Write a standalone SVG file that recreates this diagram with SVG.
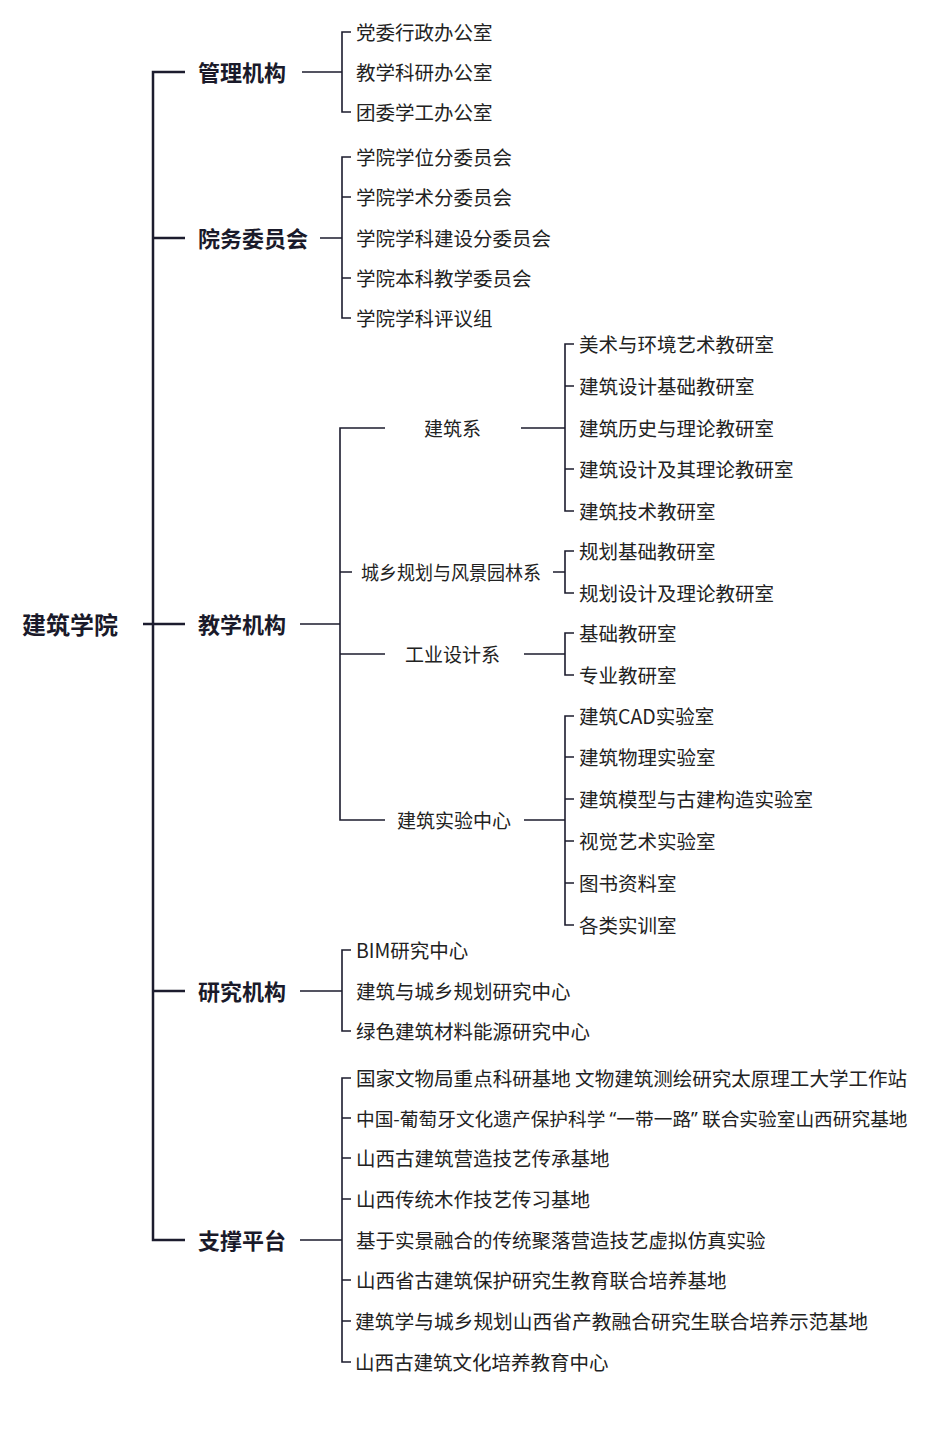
<svg xmlns="http://www.w3.org/2000/svg" width="930" height="1438" viewBox="0 0 930 1438">
<style>
text{font-family:"Noto Sans CJK SC","Noto Sans",sans-serif;fill:#222;dominant-baseline:central}
.root{font-size:24px;font-weight:bold;fill:#1a1a2a}
.l1{font-size:22px;font-weight:bold;fill:#1a1a2a}
.l2{font-size:19px}
.lf{font-size:19.5px}
.q{font-family:"Noto Sans","DejaVu Sans",sans-serif}
.c path{stroke:#1c1c2e;fill:none}
.main{stroke-width:2.5}
.thin{stroke-width:1.6}
</style>
<rect width="930" height="1438" fill="#fff"/>
<g class="c" id="connectors">
<path class="main" d="M185 72H153V1240H185M153 238H185M143 624H185M153 991H185"/>
<path class="thin" d="M302 72H342M351 32H342V112H351"/>
<path class="thin" d="M320 238H342M351 157H342V318H351M342 197H351M342 278H351"/>
<path class="thin" d="M300 624H340M385 428H340V820H385M340 572H352M340 654H385"/>
<path class="thin" d="M521 428H565M574 344H565V511H574M565 386H574M565 469H574"/>
<path class="thin" d="M553 572H565M574 551H565V593H574"/>
<path class="thin" d="M524 654H565M574 633H565V675H574"/>
<path class="thin" d="M524 820H565M574 716H565V925H574M565 757H574M565 799H574M565 841H574M565 883H574"/>
<path class="thin" d="M300 991H342M351 950H342V1031H351"/>
<path class="thin" d="M300 1240H342M351 1078H342V1362H351M342 1118H351M342 1158H351M342 1199H351M342 1280H351M342 1321H351"/>
</g>
<g id="root"><text class="root" x="22" y="623">建筑学院</text></g>
<g id="n-guanli"><text class="l1" x="198" y="71">管理机构</text></g>
<g id="n-yuanwu"><text class="l1" x="198" y="237">院务委员会</text></g>
<g id="n-jiaoxue"><text class="l1" x="198" y="623">教学机构</text></g>
<g id="n-yanjiu"><text class="l1" x="198" y="990">研究机构</text></g>
<g id="n-zhicheng"><text class="l1" x="198" y="1239">支撑平台</text></g>
<g id="guanli-children">
<text class="lf" x="356" y="31">党委行政办公室</text>
<text class="lf" x="356" y="71">教学科研办公室</text>
<text class="lf" x="356" y="111">团委学工办公室</text>
</g>
<g id="yuanwu-children">
<text class="lf" x="356" y="156">学院学位分委员会</text>
<text class="lf" x="356" y="196">学院学术分委员会</text>
<text class="lf" x="356" y="237">学院学科建设分委员会</text>
<text class="lf" x="356" y="277">学院本科教学委员会</text>
<text class="lf" x="356" y="317">学院学科评议组</text>
</g>
<g id="n-jianzhuxi"><text class="l2" x="424" y="427">建筑系</text></g>
<g id="n-chengxiang"><text class="l2" x="361" y="571" textLength="180" lengthAdjust="spacingAndGlyphs">城乡规划与风景园林系</text></g>
<g id="n-gongye"><text class="l2" x="405" y="653">工业设计系</text></g>
<g id="n-shiyan"><text class="l2" x="397" y="819">建筑实验中心</text></g>
<g id="jianzhuxi-children">
<text class="lf" x="579" y="343">美术与环境艺术教研室</text>
<text class="lf" x="579" y="385">建筑设计基础教研室</text>
<text class="lf" x="579" y="427">建筑历史与理论教研室</text>
<text class="lf" x="579" y="468">建筑设计及其理论教研室</text>
<text class="lf" x="579" y="510">建筑技术教研室</text>
</g>
<g id="chengxiang-children">
<text class="lf" x="579" y="550">规划基础教研室</text>
<text class="lf" x="579" y="592">规划设计及理论教研室</text>
</g>
<g id="gongye-children">
<text class="lf" x="579" y="632">基础教研室</text>
<text class="lf" x="579" y="674">专业教研室</text>
</g>
<g id="shiyan-children">
<text class="lf" x="579" y="715">建筑CAD实验室</text>
<text class="lf" x="579" y="756">建筑物理实验室</text>
<text class="lf" x="579" y="798">建筑模型与古建构造实验室</text>
<text class="lf" x="579" y="840">视觉艺术实验室</text>
<text class="lf" x="579" y="882">图书资料室</text>
<text class="lf" x="579" y="924">各类实训室</text>
</g>
<g id="yanjiu-children">
<text class="lf" x="356" y="949">BIM研究中心</text>
<text class="lf" x="356" y="990">建筑与城乡规划研究中心</text>
<text class="lf" x="356" y="1030">绿色建筑材料能源研究中心</text>
</g>
<g id="zhicheng-children">
<text class="lf" x="356" y="1077" textLength="551" lengthAdjust="spacingAndGlyphs">国家文物局重点科研基地  文物建筑测绘研究太原理工大学工作站</text>
<text class="lf" x="356" y="1117" style="font-size:18.7px">中国-葡萄牙文化遗产保护科学 <tspan class="q">“</tspan>一带一路<tspan class="q">”</tspan> 联合实验室山西研究基地</text>
<text class="lf" x="356" y="1157">山西古建筑营造技艺传承基地</text>
<text class="lf" x="356" y="1198">山西传统木作技艺传习基地</text>
<text class="lf" x="356" y="1239">基于实景融合的传统聚落营造技艺虚拟仿真实验</text>
<text class="lf" x="356" y="1279">山西省古建筑保护研究生教育联合培养基地</text>
<text class="lf" x="355" y="1320" textLength="513" lengthAdjust="spacingAndGlyphs">建筑学与城乡规划山西省产教融合研究生联合培养示范基地</text>
<text class="lf" x="355" y="1361">山西古建筑文化培养教育中心</text>
</g>
</svg>
